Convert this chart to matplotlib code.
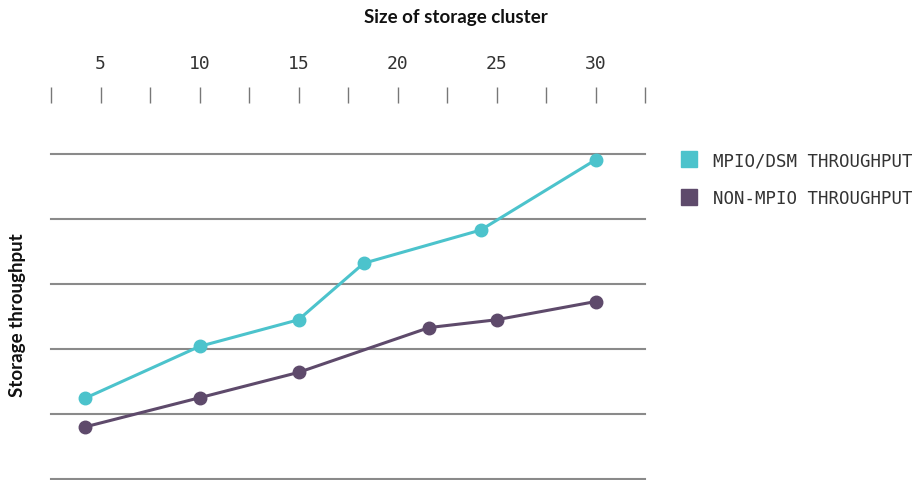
import matplotlib
matplotlib.use("Agg")
import matplotlib.pyplot as plt
from matplotlib.lines import Line2D

# data
mpio_x = [4.2, 10, 15, 18.3, 24.2, 30]
mpio_y = [1.24, 2.04, 2.45, 3.32, 3.83, 4.91]
non_x = [4.2, 10, 15, 21.6, 25, 30]
non_y = [0.80, 1.25, 1.64, 2.33, 2.45, 2.73]
major_ticks = [5, 10, 15, 20, 25, 30]
minor_ticks = [2.5, 7.5, 12.5, 17.5, 22.5, 27.5, 32.5]
grid_levels = [0, 1, 2, 3, 4, 5]
labels = ["MPIO/DSM THROUGHPUT", "NON-MPIO THROUGHPUT"]

cyan = "#4cc3cc"
purple = "#5e4a6b"
grid_col = "#8a8a8a"
text_col = "#333333"
mono = "DejaVu Sans Mono"

W, H = 916, 481
fig = plt.figure(figsize=(W / 100, H / 100), dpi=100)
ax = fig.add_axes([51 / W, 1 / H, (645 - 51) / W, (480 - 104) / H])

ax.set_xlim(2.5, 32.5)
ax.set_ylim(0, 5.785)

for g in grid_levels:
    ax.axhline(g, color=grid_col, lw=1.5, zorder=1, clip_on=False)

ax.plot(mpio_x, mpio_y, color=cyan, lw=2.2, marker="o", ms=9, zorder=3)
ax.plot(non_x, non_y, color=purple, lw=2.2, marker="o", ms=9, zorder=3)

for s in ax.spines.values():
    s.set_visible(False)

ax.xaxis.tick_top()
ax.set_xticks(major_ticks)
ax.set_xticks(minor_ticks, minor=True)
ax.tick_params(axis="x", which="both", direction="out", length=11.5,
               width=1, color="#777777", top=True, bottom=False)
ax.tick_params(axis="x", which="major", pad=11, labelsize=13,
               labelcolor=text_col)
for t in ax.get_xticklabels():
    t.set_family(mono)
ax.set_yticks([])

fig.text(456 / W, 1 - 17 / H, "Size of storage cluster", ha="center",
         va="center", fontsize=13.5, fontweight="bold", family="Lato",
         color="#111111")
fig.text(18 / W, 1 - 315 / H, "Storage throughput", ha="center",
         va="center", rotation=90, fontsize=13.5, fontweight="bold",
         family="Lato", color="#111111")

handles = [Line2D([], [], ls="none", marker="s", ms=11, color=cyan),
           Line2D([], [], ls="none", marker="s", ms=11, color=purple)]
fig.legend(handles, labels, loc="upper left",
           bbox_to_anchor=(682 / W, 1 - 152 / H), frameon=False,
           prop={"family": mono, "size": 12.5}, labelcolor=text_col,
           handletextpad=1.0, labelspacing=1.15, handlelength=0.8,
           borderpad=0, borderaxespad=0)

fig.savefig("out.png", dpi=100)
